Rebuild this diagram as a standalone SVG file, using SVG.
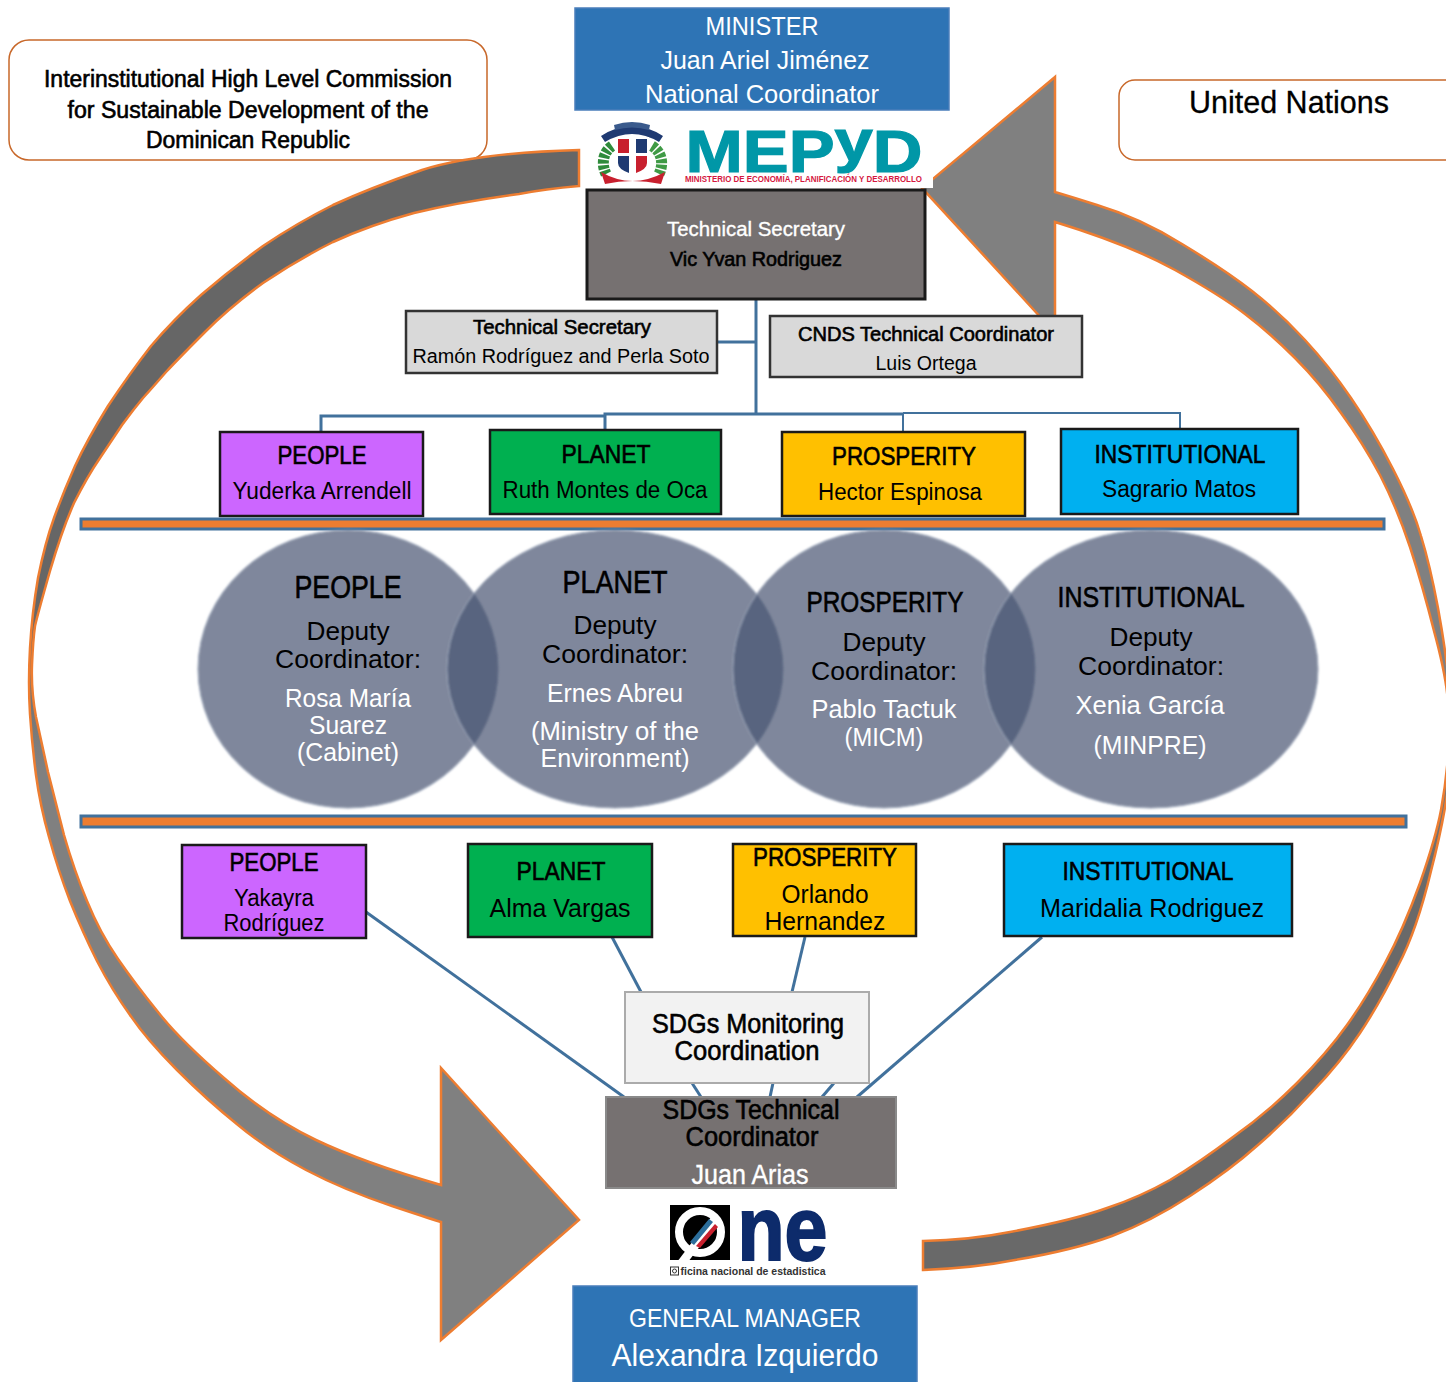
<svg xmlns="http://www.w3.org/2000/svg" width="1446" height="1382" viewBox="0 0 1446 1382">
<style>
text{font-family:"Liberation Sans",Arial,sans-serif;text-anchor:middle;fill:#000}
.s{stroke:#000;stroke-width:.6}
.w{fill:#fff}
.ws{fill:#fff;stroke:#fff;stroke-width:.35}
.box{stroke:#1a1a1a;stroke-width:2.5}
.blue{fill:#2E74B5;stroke:#4A7EBB;stroke-width:1.5}
.gray{fill:#D9D9D9;stroke:#333;stroke-width:2.5}
.round{fill:#fff;stroke:#C8682A;stroke-width:1.5}
.bar{fill:#ED7D31;stroke:#41719C;stroke-width:3}
.el{fill:#485672;fill-opacity:.7;stroke:#8F9BB2;stroke-width:1}
.arrow{stroke:#ED7D31;stroke-width:2.5;stroke-linejoin:miter}
#connectors line,#connectors path{stroke:#41719C;stroke-width:3;fill:none}
#connectors .t{stroke-width:2}
</style>
<defs>
<linearGradient id="gl" gradientUnits="userSpaceOnUse" x1="0" y1="150" x2="0" y2="1340">
<stop offset="0.38" stop-color="#666"/><stop offset="0.52" stop-color="#808080"/>
</linearGradient>
<linearGradient id="gr" gradientUnits="userSpaceOnUse" x1="0" y1="77" x2="0" y2="1270">
<stop offset="0.55" stop-color="#808080"/><stop offset="0.68" stop-color="#696969"/>
</linearGradient>
<filter id="soft" x="-5%" y="-5%" width="110%" height="110%"><feGaussianBlur stdDeviation=".8"/></filter>
</defs>
<rect width="1446" height="1382" fill="#fff"/>

<g id="commission">
<rect class="round" x="9" y="40" width="478" height="120" rx="20"/>
<text class="s" x="248" y="87" font-size="23" textLength="408" lengthAdjust="spacingAndGlyphs">Interinstitutional High Level Commission</text>
<text class="s" x="248" y="118" font-size="23" textLength="361" lengthAdjust="spacingAndGlyphs">for Sustainable Development of the</text>
<text class="s" x="248" y="148" font-size="23" textLength="204" lengthAdjust="spacingAndGlyphs">Dominican Republic</text>
</g>
<g id="united-nations">
<rect class="round" x="1119" y="80" width="360" height="80" rx="16"/>
<text x="1289" y="113" font-size="32" textLength="200" lengthAdjust="spacingAndGlyphs" stroke="#000" stroke-width=".3">United Nations</text>
</g>

<g id="cycle-arrows">
<path id="arrow-left" class="arrow" fill="url(#gl)" d="M579,150 Q475,153 422,170 Q370,188 333,205 Q297,223 263,246 Q230,270 201,295 Q173,320 151,346 Q130,373 108,406 Q87,440 75,466 Q63,493 54,518 Q45,543 38,578 Q32,613 30,648 Q28,683 30,714 Q32,745 36,775 Q40,805 49,837 Q58,870 70,901 Q83,933 97,961 Q112,990 130,1015 Q147,1040 177,1070 Q207,1100 238,1125 Q268,1150 306,1170 Q344,1190 392,1206 Q425,1217 441,1222 L441,1340 L579,1220 L441,1068 L441,1185 Q364,1163 316,1140 Q268,1117 224,1078 Q180,1040 158,1012 Q136,985 118,959 Q100,933 87,901 Q74,870 64,835 Q55,800 48,772 Q42,745 36,717 Q31,690 32,665 Q33,640 35,626 Q38,613 50,571 Q62,530 74,503 Q87,477 100,458 Q112,440 122,425 Q133,410 143,398 Q153,387 166,372 Q180,357 205,332 Q230,307 263,283 Q297,260 333,242 Q370,225 414,213 Q459,202 519,194 Q545,189 579,186 Z"/>
<path id="arrow-right" class="arrow" fill="url(#gr)" d="M1055,77 L922,188 L1055,333 L1055,222 Q1130,245 1175,270 Q1220,295 1245,314 Q1270,333 1295,358 Q1320,383 1341,413 Q1363,443 1380,475 Q1397,508 1410,547 Q1423,587 1434,631 Q1446,675 1448,702 Q1450,730 1448,756 Q1446,783 1441,810 Q1436,837 1420,883 Q1403,930 1385,963 Q1367,997 1347,1025 Q1327,1053 1297,1083 Q1267,1113 1233,1137 Q1200,1162 1170,1180 Q1140,1197 1107,1208 Q1074,1220 1010,1232 Q970,1240 923,1241 L923,1270 Q975,1268 1015,1260 Q1074,1250 1112,1236 Q1150,1222 1190,1196 Q1230,1170 1258,1145 Q1287,1120 1313,1091 Q1340,1063 1360,1033 Q1380,1003 1398,966 Q1417,930 1431,871 Q1446,813 1450,771 Q1455,730 1450,691 Q1446,652 1438,608 Q1430,565 1421,536 Q1413,508 1393,469 Q1373,430 1351,398 Q1330,367 1305,340 Q1280,313 1252,291 Q1225,270 1182,244 Q1140,218 1097,205 Q1075,198 1055,192 Z"/>
</g>

<g id="connectors">
<line x1="756" y1="299" x2="756" y2="414"/>
<line x1="717" y1="342" x2="756" y2="342"/>
<path d="M321,432 V416 H605"/>
<path d="M605,431 V414 H903"/>
<line x1="903" y1="414" x2="903" y2="432" class="t"/>
<path class="t" d="M903,413 H1180 V429"/>
<line x1="366" y1="912" x2="624" y2="1097"/>
<line x1="612" y1="937" x2="641" y2="992"/>
<line x1="805" y1="937" x2="792" y2="992"/>
<line x1="1042" y1="937" x2="857" y2="1097"/>
<line x1="692" y1="1083" x2="701" y2="1097"/>
<line x1="773" y1="1083" x2="770" y2="1097"/>
<line x1="834" y1="1083" x2="822" y2="1097"/>
</g>

<g id="minister">
<rect class="blue" x="575" y="8" width="374" height="102"/>
<text class="w" x="762" y="35" font-size="25" textLength="113" lengthAdjust="spacingAndGlyphs">MINISTER</text>
<text class="w" x="765" y="69" font-size="25" textLength="209" lengthAdjust="spacingAndGlyphs">Juan Ariel Jiménez</text>
<text class="w" x="762" y="103" font-size="25" textLength="234" lengthAdjust="spacingAndGlyphs">National Coordinator</text>
</g>

<g id="mepyd-logo">
<rect x="590" y="114" width="343" height="74" fill="#fff"/>
<path d="M601,136 Q632,116 663,136 L659,142 Q632,126 605,142 Z" fill="#1F3A72"/>
<path d="M614,125 Q632,119 650,125 L649,130 Q632,125 615,130 Z" fill="#3A5A8C"/>
<path d="M612,146 C603,152 601,164 606,174" fill="none" stroke="#2E8B3A" stroke-width="11" stroke-dasharray="4 1.500"/>
<path d="M652,146 C662,152 664,164 659,174" fill="none" stroke="#3F9A45" stroke-width="11" stroke-dasharray="4 1.500"/>
<path d="M616,137 H649 V162 Q649,172 632,177 Q616,172 616,162 Z" fill="#fff"/>
<path d="M618,139 H629 V153 H618 Z M636,156 H647 V163 Q647,169 636,173 Z" fill="#C8202E"/>
<path d="M636,139 H647 V153 H636 Z M618,156 H629 V173 Q618,169 618,163 Z" fill="#1F3A72"/>
<path d="M601,172 Q632,190 665,172 L661,184 Q632,178 605,184 Z" fill="#C8202E"/>
<text x="804" y="172" font-size="60" font-weight="700" stroke="#0097A7" stroke-width="1.200" style="fill:#0097A7" textLength="237" lengthAdjust="spacingAndGlyphs">MEP<tspan dy="-11">y</tspan><tspan dy="11">D</tspan></text>
<text x="803.500" y="182" font-size="8.500" font-weight="700" style="fill:#D5173F" textLength="237" lengthAdjust="spacingAndGlyphs">MINISTERIO DE ECONOMÍA, PLANIFICACIÓN Y DESARROLLO</text>
</g>

<g id="technical-secretary">
<rect x="587" y="190" width="338" height="109" fill="#767171" stroke="#1a1a1a" stroke-width="3"/>
<text class="ws" x="756" y="236" font-size="20" textLength="178" lengthAdjust="spacingAndGlyphs">Technical Secretary</text>
<text class="s" x="756" y="266" font-size="20" textLength="172" lengthAdjust="spacingAndGlyphs">Vic Yvan Rodriguez</text>
</g>
<g id="technical-secretary-2">
<rect class="gray" x="406" y="311" width="311" height="62"/>
<text class="s" x="562" y="334" font-size="20" textLength="178" lengthAdjust="spacingAndGlyphs">Technical Secretary</text>
<text x="561" y="363" font-size="20" textLength="297" lengthAdjust="spacingAndGlyphs">Ramón Rodríguez and Perla Soto</text>
</g>
<g id="cnds-coordinator">
<rect class="gray" x="770" y="316" width="312" height="61"/>
<text class="s" x="926" y="341" font-size="20" textLength="256" lengthAdjust="spacingAndGlyphs">CNDS Technical Coordinator</text>
<text x="926" y="370" font-size="20" textLength="101" lengthAdjust="spacingAndGlyphs">Luis Ortega</text>
</g>

<g id="people-top">
<rect class="box" x="220" y="432" width="203" height="84" fill="#CC66FF"/>
<text class="s" x="322" y="464" font-size="25" textLength="89" lengthAdjust="spacingAndGlyphs">PEOPLE</text>
<text x="322" y="499" font-size="23" textLength="179" lengthAdjust="spacingAndGlyphs">Yuderka Arrendell</text>
</g>
<g id="planet-top">
<rect class="box" x="490" y="430" width="231" height="84" fill="#00B050"/>
<text class="s" x="606" y="463" font-size="25" textLength="89" lengthAdjust="spacingAndGlyphs">PLANET</text>
<text x="605" y="498" font-size="23" textLength="205" lengthAdjust="spacingAndGlyphs">Ruth Montes de Oca</text>
</g>
<g id="prosperity-top">
<rect class="box" x="782" y="432" width="243" height="84" fill="#FFC000"/>
<text class="s" x="904" y="465" font-size="25" textLength="144" lengthAdjust="spacingAndGlyphs">PROSPERITY</text>
<text x="900" y="500" font-size="23" textLength="164" lengthAdjust="spacingAndGlyphs">Hector Espinosa</text>
</g>
<g id="institutional-top">
<rect class="box" x="1061" y="429" width="237" height="85" fill="#00B0F0"/>
<text class="s" x="1180" y="463" font-size="25" textLength="171" lengthAdjust="spacingAndGlyphs">INSTITUTIONAL</text>
<text x="1179" y="497" font-size="23" textLength="154" lengthAdjust="spacingAndGlyphs">Sagrario Matos</text>
</g>

<rect id="bar-top" class="bar" x="81" y="519" width="1303" height="10"/>

<g id="circles" filter="url(#soft)">
<ellipse class="el" cx="348" cy="669" rx="150" ry="139"/>
<ellipse class="el" cx="615" cy="669" rx="168" ry="139"/>
<ellipse class="el" cx="884" cy="669" rx="151" ry="139"/>
<ellipse class="el" cx="1151" cy="669" rx="167" ry="139"/>
</g>
<g id="people-deputy">
<text class="s" x="348" y="598" font-size="32" textLength="107" lengthAdjust="spacingAndGlyphs">PEOPLE</text>
<text x="348" y="640" font-size="26" textLength="83" lengthAdjust="spacingAndGlyphs">Deputy</text>
<text x="348" y="668" font-size="26" textLength="146" lengthAdjust="spacingAndGlyphs">Coordinator:</text>
<text class="w" x="348" y="707" font-size="25" textLength="126" lengthAdjust="spacingAndGlyphs">Rosa María</text>
<text class="w" x="348" y="734" font-size="25" textLength="78" lengthAdjust="spacingAndGlyphs">Suarez</text>
<text class="w" x="348" y="761" font-size="25" textLength="102" lengthAdjust="spacingAndGlyphs">(Cabinet)</text>
</g>
<g id="planet-deputy">
<text class="s" x="615" y="593" font-size="32" textLength="105" lengthAdjust="spacingAndGlyphs">PLANET</text>
<text x="615" y="634" font-size="26" textLength="83" lengthAdjust="spacingAndGlyphs">Deputy</text>
<text x="615" y="663" font-size="26" textLength="146" lengthAdjust="spacingAndGlyphs">Coordinator:</text>
<text class="w" x="615" y="702" font-size="25" textLength="136" lengthAdjust="spacingAndGlyphs">Ernes Abreu</text>
<text class="w" x="615" y="740" font-size="25" textLength="168" lengthAdjust="spacingAndGlyphs">(Ministry of the</text>
<text class="w" x="615" y="767" font-size="25" textLength="149" lengthAdjust="spacingAndGlyphs">Environment)</text>
</g>
<g id="prosperity-deputy">
<text class="s" x="885" y="612" font-size="29" textLength="157" lengthAdjust="spacingAndGlyphs">PROSPERITY</text>
<text x="884" y="651" font-size="26" textLength="83" lengthAdjust="spacingAndGlyphs">Deputy</text>
<text x="884" y="680" font-size="26" textLength="146" lengthAdjust="spacingAndGlyphs">Coordinator:</text>
<text class="w" x="884" y="718" font-size="25" textLength="145" lengthAdjust="spacingAndGlyphs">Pablo Tactuk</text>
<text class="w" x="884" y="746" font-size="25" textLength="79" lengthAdjust="spacingAndGlyphs">(MICM)</text>
</g>
<g id="institutional-deputy">
<text class="s" x="1151" y="607" font-size="29" textLength="187" lengthAdjust="spacingAndGlyphs">INSTITUTIONAL</text>
<text x="1151" y="646" font-size="26" textLength="83" lengthAdjust="spacingAndGlyphs">Deputy</text>
<text x="1151" y="675" font-size="26" textLength="146" lengthAdjust="spacingAndGlyphs">Coordinator:</text>
<text class="w" x="1150" y="714" font-size="25" textLength="149" lengthAdjust="spacingAndGlyphs">Xenia García</text>
<text class="w" x="1150" y="754" font-size="25" textLength="113" lengthAdjust="spacingAndGlyphs">(MINPRE)</text>
</g>

<rect id="bar-bottom" class="bar" x="81" y="816" width="1325" height="11"/>

<g id="people-bottom">
<rect class="box" x="182" y="845" width="184" height="93" fill="#CC66FF"/>
<text class="s" x="274" y="871" font-size="25" textLength="89" lengthAdjust="spacingAndGlyphs">PEOPLE</text>
<text x="274" y="906" font-size="23" textLength="80" lengthAdjust="spacingAndGlyphs">Yakayra</text>
<text x="274" y="931" font-size="23" textLength="101" lengthAdjust="spacingAndGlyphs">Rodríguez</text>
</g>
<g id="planet-bottom">
<rect class="box" x="468" y="844" width="184" height="93" fill="#00B050"/>
<text class="s" x="561" y="880" font-size="25" textLength="89" lengthAdjust="spacingAndGlyphs">PLANET</text>
<text x="560" y="917" font-size="25" textLength="141" lengthAdjust="spacingAndGlyphs">Alma Vargas</text>
</g>
<g id="prosperity-bottom">
<rect class="box" x="733" y="844" width="183" height="92" fill="#FFC000"/>
<text class="s" x="825" y="866" font-size="25" textLength="144" lengthAdjust="spacingAndGlyphs">PROSPERITY</text>
<text x="825" y="903" font-size="25" textLength="87" lengthAdjust="spacingAndGlyphs">Orlando</text>
<text x="825" y="930" font-size="25" textLength="121" lengthAdjust="spacingAndGlyphs">Hernandez</text>
</g>
<g id="institutional-bottom">
<rect class="box" x="1004" y="844" width="288" height="92" fill="#00B0F0"/>
<text class="s" x="1148" y="880" font-size="25" textLength="171" lengthAdjust="spacingAndGlyphs">INSTITUTIONAL</text>
<text x="1152" y="917" font-size="25" textLength="224" lengthAdjust="spacingAndGlyphs">Maridalia Rodriguez</text>
</g>

<g id="sdgs-monitoring">
<rect x="625" y="992" width="244" height="91" fill="#F2F2F2" stroke="#ABABAB" stroke-width="2"/>
<text class="s" x="748" y="1033" font-size="27" textLength="192" lengthAdjust="spacingAndGlyphs">SDGs Monitoring</text>
<text class="s" x="747" y="1060" font-size="27" textLength="145" lengthAdjust="spacingAndGlyphs">Coordination</text>
</g>
<g id="sdgs-technical">
<rect x="606" y="1097" width="290" height="91" fill="#767171" stroke="#8A8A8A" stroke-width="2"/>
<text class="s" x="751" y="1119" font-size="27" textLength="177" lengthAdjust="spacingAndGlyphs">SDGs Technical</text>
<text class="s" x="752" y="1146" font-size="27" textLength="133" lengthAdjust="spacingAndGlyphs">Coordinator</text>
<text class="ws" x="750" y="1184" font-size="27" textLength="117" lengthAdjust="spacingAndGlyphs">Juan Arias</text>
</g>

<g id="one-logo">
<rect x="670" y="1205" width="60" height="55" fill="#000"/>
<circle cx="700" cy="1232" r="21" fill="#000" stroke="#fff" stroke-width="8"/>
<path d="M677,1262 L688,1262 L718,1222 L712,1216 Z" fill="#fff"/>
<path d="M690,1242 L709,1219 L713,1222 L694,1245 Z" fill="#2C6E9B"/>
<path d="M696,1246 L715,1224 L718,1227 L700,1248 Z" fill="#C8202E"/>
<text x="782.500" y="1260" font-size="90" font-weight="700" stroke="#0D2B6B" stroke-width="2" style="fill:#0D2B6B" textLength="90" lengthAdjust="spacingAndGlyphs">ne</text>
<rect x="670.500" y="1267" width="8" height="8" fill="#fff" stroke="#333" stroke-width="1"/>
<circle cx="674.500" cy="1271" r="2" fill="none" stroke="#333" stroke-width="1"/>
<text x="753" y="1275" font-size="10" font-weight="700" style="fill:#333" textLength="145" lengthAdjust="spacingAndGlyphs">ficina nacional de estadistica</text>
</g>

<g id="general-manager">
<rect class="blue" x="573" y="1286" width="344" height="98"/>
<text class="w" x="745" y="1327" font-size="26" textLength="232" lengthAdjust="spacingAndGlyphs">GENERAL MANAGER</text>
<text class="w" x="745" y="1366" font-size="31" textLength="267" lengthAdjust="spacingAndGlyphs">Alexandra Izquierdo</text>
</g>
</svg>
